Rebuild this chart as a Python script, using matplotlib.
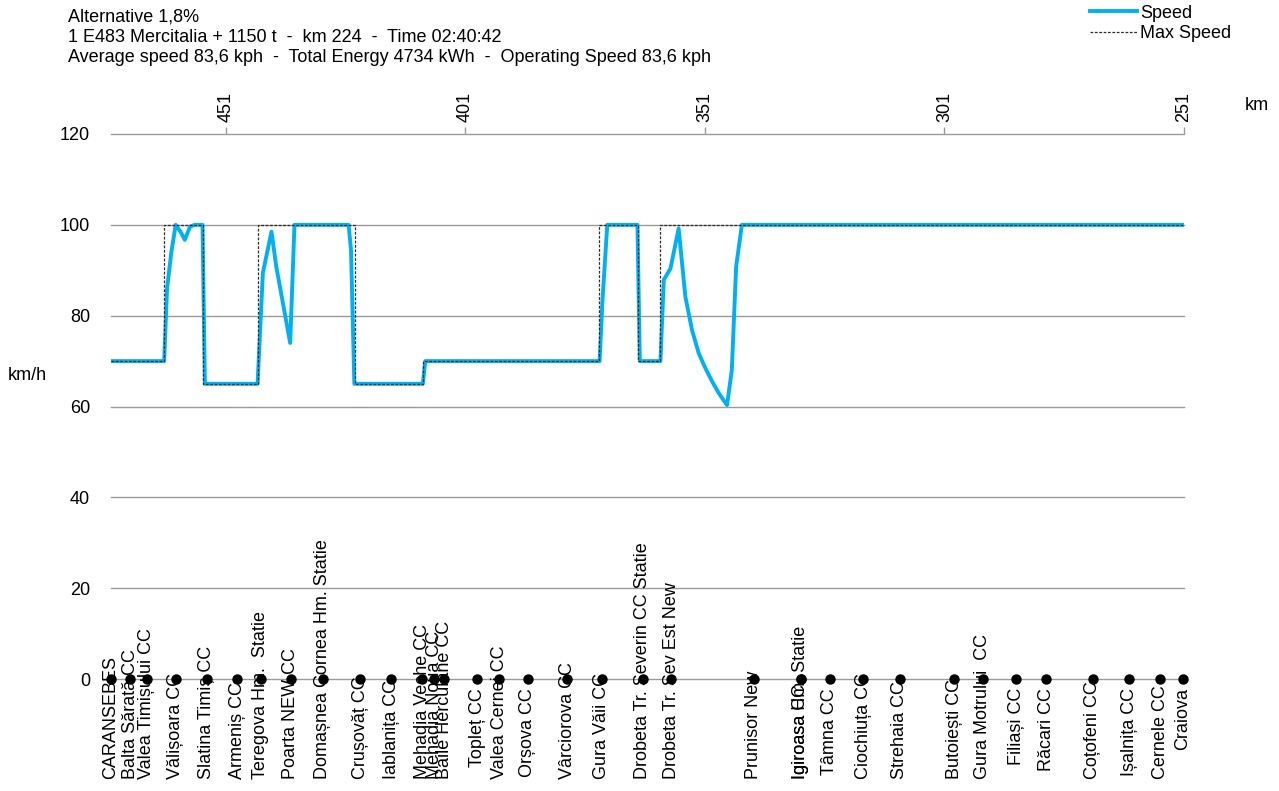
import matplotlib.pyplot as plt
from matplotlib.lines import Line2D

plt.rcParams['font.family'] = ['Liberation Sans', 'DejaVu Sans']
plt.rcParams['font.size'] = 13

# speed profile (km position, km/h)
speed_km = [475.0, 463.9, 463.3, 462.4, 461.5, 460.5, 459.6, 458.5, 457.5, 455.9, 455.4,
            444.4, 443.3, 441.5, 440.5, 439.1, 437.6, 436.7, 425.4, 424.9, 424.2,
            409.9, 409.4, 373.0, 372.4, 371.4, 365.1, 364.6, 360.3, 359.6, 358.2, 356.5,
            355.1, 353.7, 352.3, 350.9, 349.5, 348.1, 346.4, 345.4, 344.5, 343.3, 251.0]
speed_kph = [70, 70, 86, 94, 100, 98.5, 96.7, 99.6, 100, 100, 65,
             65, 89.4, 98.5, 90.8, 82.7, 74, 100, 100, 94.5, 65,
             65, 70, 70, 83.4, 100, 100, 70, 70, 87.9, 90.4, 99.2,
             84.2, 76.8, 71.7, 68.4, 65.5, 62.9, 60.3, 68, 90.8, 100, 100]

# speed limit changes (start km of each section)
limit_km = [475.0, 464.0, 455.8, 444.4, 424.0, 409.8, 373.1, 365.0, 360.4, 251.0]
limit_kph = [70, 100, 65, 100, 65, 70, 100, 70, 100, 100]

stations = ['CARANSEBES', 'Balta Sărată CC', 'Valea Timișului CC', 'Vălișoara CC',
            'Slatina Timiș CC', 'Armeniș CC', 'Teregova Hm.  Statie', 'Poarta NEW CC',
            'Domașnea Cornea Hm. Statie', 'Crușovăț CC', 'Iablanița CC', 'Mehadia Veche CC',
            'Mehadia Noua CC', 'Baile Herculane CC', 'Topleț CC', 'Valea Cernei CC',
            'Orșova CC', 'Vârciorova CC', 'Gura Văii CC', 'Drobeta Tr. Severin CC Statie',
            'Drobeta Tr. Sev Est New', 'Prunisor New', 'Igiroasa CC', 'Igiroasa Hm. Statie',
            'Tâmna CC', 'Ciochiuța CC', 'Strehaia CC', 'Butoiești CC', 'Gura Motrului  CC',
            'Filiași CC', 'Răcari CC', 'Coțofeni CC', 'Ișalnița CC', 'Cernele CC', 'Craiova']
station_km = [475.0, 471.0, 467.5, 461.5, 455.0, 448.6, 443.7, 437.5, 430.8, 423.0,
              416.5, 410.0, 407.5, 405.4, 398.5, 394.0, 388.0, 379.8, 372.5, 364.0,
              358.0, 340.8, 331.0, 331.0, 325.0, 318.0, 310.3, 299.0, 293.0, 286.0,
              279.8, 270.0, 262.4, 256.0, 251.2]

top_ticks = [451, 401, 351, 301, 251]
y_ticks = [0, 20, 40, 60, 80, 100, 120]

W, H = 1279, 791
fig = plt.figure(figsize=(W / 100, H / 100), dpi=100)
ax = fig.add_axes([111 / W, 1 - 679 / H, (1184 - 111) / W, (679 - 134) / H])

ax.plot(speed_km, speed_kph, color='#00B0F0', lw=2.8, zorder=3, label='Speed')
ax.plot(limit_km, limit_kph, drawstyle='steps-post', color='#2b2b2b', lw=0.9,
        dashes=(2.2, 1.3), zorder=4, label='Max Speed')
ax.plot(station_km, [0] * len(station_km), 'o', color='black', ms=6.5,
        clip_on=False, zorder=5)

ax.set_xlim(475, 251)
ax.set_ylim(0, 120)
ax.set_yticks(y_ticks)
ax.yaxis.grid(True, color='#9a9a9a', lw=1)
for g in ax.get_ygridlines():
    g.set_clip_on(False)
ax.set_axisbelow(True)
for s in ax.spines.values():
    s.set_visible(False)
ax.tick_params(axis='y', length=0, pad=15)

ax.xaxis.tick_top()
ax.set_xticks(top_ticks)
ax.set_xticklabels([str(t) for t in top_ticks], rotation=90)
ax.tick_params(axis='x', length=5, width=1, color='#9a9a9a', pad=4)

# station names, vertical below the dots, pushed up if they run off the bottom
labels = []
for name, km in zip(stations, station_km):
    t = ax.annotate(name, xy=(km, 0), xytext=(0, -9), textcoords='offset pixels',
                    rotation=90, ha='center', va='top', annotation_clip=False)
    labels.append(t)

fig.text(68 / W, 1 - 9 / H,
         'Alternative 1,8%\n'
         '1 E483 Mercitalia + 1150 t  -  km 224  -  Time 02:40:42\n'
         'Average speed 83,6 kph  -  Total Energy 4734 kWh  -  Operating Speed 83,6 kph',
         ha='left', va='top', linespacing=1.22)
fig.text(8 / W, 1 - 375 / H, 'km/h', ha='left', va='center')
fig.text(1245 / W, 1 - 105 / H, 'km', ha='left', va='center')

handles = [Line2D([], [], color='#00B0F0', lw=2.8),
           Line2D([], [], color='#2b2b2b', lw=0.9, dashes=(2.2, 1.3))]
fig.legend(handles, ['Speed', 'Max Speed'], loc='upper right',
           bbox_to_anchor=(1244 / W, 1 + 8 / H), frameon=False,
           handlelength=2.6, handletextpad=0.2, labelspacing=0.2, borderpad=0.2)

fig.canvas.draw()
renderer = fig.canvas.get_renderer()
floor = 12
for t in labels:
    bb = t.get_window_extent(renderer)
    if bb.y0 < floor:
        t.set_position((0, -9 + (floor - bb.y0)))

fig.savefig('out.png', dpi=100)
